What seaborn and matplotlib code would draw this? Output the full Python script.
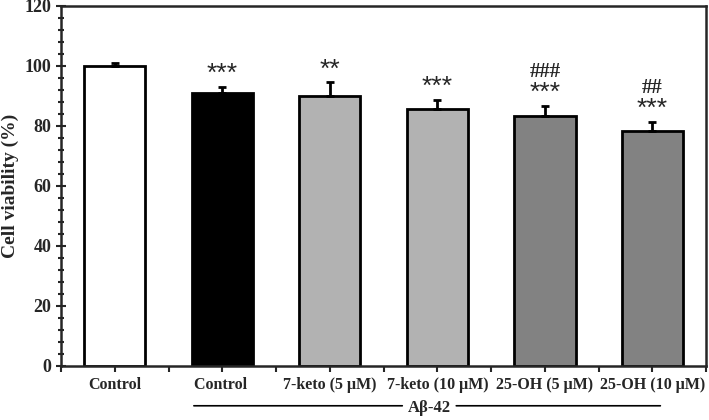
import numpy as np
import pandas as pd
import matplotlib
matplotlib.use('Agg')
import matplotlib.pyplot as plt
import seaborn as sns
from matplotlib.ticker import MultipleLocator

# Data
groups = ['Control', 'Control ', '7-keto (5 μM)', '7-keto (10 μM)', '25-OH (5 μM)', '25-OH (10 μM)']
viability = [100.0, 91.0, 89.8, 85.6, 83.3, 78.4]
sd = [0.8, 2.0, 4.7, 3.0, 3.3, 3.0]
stars = ['', '***', '**', '***', '***', '***']
hashes = ['', '', '', '', '###', '##']
colors = ['white', 'black', '#b2b2b2', '#b2b2b2', '#828282', '#828282']

sns.set_style('ticks')
plt.rcParams['font.family'] = ['Liberation Serif', 'DejaVu Serif']
plt.rcParams['font.weight'] = 'bold'

df = pd.DataFrame({'group': groups, 'viability': viability})

fig = plt.figure(figsize=(7.09, 4.2), dpi=100)
ax = fig.add_axes([0.086, 0.129, 0.91, 0.857])

sns.barplot(data=df, x='group', y='viability', hue='group', palette=colors,
            legend=False, width=0.57, edgecolor='black', linewidth=2, ax=ax)

x = np.arange(len(groups))
ax.errorbar(x, viability, yerr=[np.zeros(len(sd)), sd], fmt='none',
            ecolor='black', elinewidth=2, capsize=3, capthick=2, zorder=1)

for xi, v, e, s, h in zip(x, viability, sd, stars, hashes):
    top = v + e
    if s:
        ax.text(xi, top + 0.3, s, ha='center', va='bottom', fontsize=19,
                family=['Liberation Sans', 'DejaVu Sans'], fontweight='normal')
    if h:
        ax.text(xi, top + 8.0, h, ha='center', va='bottom', fontsize=15)

ax.set_ylim(0, 120)
ax.set_xlim(-0.5, 5.5)
ax.yaxis.set_major_locator(MultipleLocator(20))
ax.yaxis.set_minor_locator(MultipleLocator(4))
ax.tick_params(axis='y', which='major', direction='inout', length=7, width=1.5, labelsize=13)
ax.tick_params(axis='y', which='minor', direction='inout', length=5, width=1.5)
ax.set_xticks(x)
ax.set_xticks(np.arange(-0.5, 6, 1.0), minor=True)
ax.tick_params(axis='x', which='both', direction='out', length=4, width=1.5, labelsize=11.5, pad=4)
ax.set_xticklabels(groups, fontweight='bold')
for lab in ax.get_yticklabels():
    lab.set_fontweight('bold')

for sp in ax.spines.values():
    sp.set_linewidth(1.8)
    sp.set_visible(True)

ax.set_xlabel('')
ax.set_ylabel('Cell viability (%)', fontsize=14, fontweight='bold')

# A-beta group bracket below the axis
yb = -0.111
ax.annotate('', xy=(0.71, yb), xytext=(2.7, yb), xycoords=('data', 'axes fraction'),
            arrowprops=dict(arrowstyle='-', lw=1.2, color='black'), annotation_clip=False)
ax.annotate('', xy=(3.15, yb), xytext=(5.1, yb), xycoords=('data', 'axes fraction'),
            arrowprops=dict(arrowstyle='-', lw=1.2, color='black'), annotation_clip=False)
ax.text(2.93, yb - 0.005, 'Aβ-42', transform=ax.get_xaxis_transform(), ha='center', va='center',
        fontsize=12, fontweight='bold')

fig.savefig('out.png', dpi=100)
